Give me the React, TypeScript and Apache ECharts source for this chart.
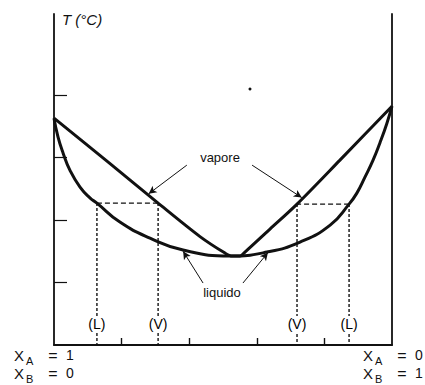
import React, { useEffect, useRef } from "react";
import * as echarts from "echarts";

// Composition of B (0 = pure A, 1 = pure B) and temperature (arbitrary units)
const liquidX = [0, 0.012, 0.027, 0.047, 0.077, 0.107, 0.127, 0.195, 0.284, 0.382, 0.521, 0.63, 0.728, 0.817, 0.873, 0.896, 0.92, 0.944, 0.964, 0.985, 1];
const liquidT = [3.632, 3.328, 3.072, 2.8, 2.528, 2.352, 2.272, 1.968, 1.712, 1.52, 1.424, 1.488, 1.648, 1.92, 2.256, 2.432, 2.688, 2.96, 3.232, 3.552, 3.824];

const vaporX = [0, 0.164, 0.308, 0.432, 0.506, 0.527, 0.55, 0.565, 0.639, 0.719, 0.846, 1];
const vaporT = [3.632, 2.912, 2.272, 1.736, 1.472, 1.424, 1.424, 1.488, 1.856, 2.256, 2.96, 3.824];

// Tie lines: liquid composition, vapour composition, temperature
const tieLiquidX = [0.127, 0.873];
const tieVaporX = [0.308, 0.719];
const tieT = [2.272, 2.256];

const yTicks = [1, 2, 3, 4];
const xTicks = [0.2, 0.4, 0.6, 0.8];

// Annotation arrows: [fromX, fromT, toX, toT]
const vaporArrows = [
  [0.393, 2.88, 0.28, 2.42],
  [0.586, 2.88, 0.733, 2.36],
];
const liquidArrows = [
  [0.441, 0.992, 0.382, 1.5],
  [0.559, 0.992, 0.633, 1.48],
];
const markLabelT = 0.336;

const FONT = "'Liberation Sans', Arial, sans-serif";
const INK = "#111";

function subLabel(x: number, y: number, sub: string, val: string) {
  return [
    { type: "text", x, y, style: { text: "X", font: `15px ${FONT}`, fill: INK, align: "left", verticalAlign: "middle" } },
    { type: "text", x: x + 12, y: y + 6, style: { text: sub, font: `11px ${FONT}`, fill: INK, align: "left", verticalAlign: "middle" } },
    { type: "text", x: x + 39, y, style: { text: "=", font: `16px ${FONT}`, fill: INK, align: "center", verticalAlign: "middle" } },
    { type: "text", x: x + 52, y, style: { text: val, font: `14px ${FONT}`, fill: INK, align: "left", verticalAlign: "middle" } },
  ];
}

export default function App() {
  const ref = useRef<HTMLDivElement>(null);

  useEffect(() => {
    if (!ref.current) return;
    const chart = echarts.init(ref.current, undefined, { renderer: "svg" });

    const liquid = liquidX.map((x, i) => [x, liquidT[i]]);
    const vapor = vaporX.map((x, i) => [x, vaporT[i]]);

    const arrowData = (list: number[][]) =>
      list.map((a) => [{ coord: [a[0], a[1]] }, { coord: [a[2], a[3]] }]);

    const tieSeries: any[] = [];
    tieT.forEach((t, i) => {
      tieSeries.push({
        type: "line",
        data: [[tieLiquidX[i], t], [tieVaporX[i], t]],
        symbol: "none",
        lineStyle: { color: INK, width: 1.2, type: [5, 3] },
        z: 2,
        silent: true,
      });
      [tieLiquidX[i], tieVaporX[i]].forEach((x) => {
        tieSeries.push({
          type: "line",
          data: [[x, t], [x, 0]],
          symbol: "none",
          lineStyle: { color: INK, width: 1.4, type: [3, 2] },
          z: 2,
          silent: true,
        });
      });
    });

    const phaseLabels = [
      [tieLiquidX[0], markLabelT, "(L)"],
      [tieVaporX[0], markLabelT, "(V)"],
      [tieVaporX[1], markLabelT, "(V)"],
      [tieLiquidX[1], markLabelT, "(L)"],
    ];

    chart.setOption({
      animation: false,
      grid: { left: 54, right: 33, top: 14, bottom: 40 },
      xAxis: {
        type: "value",
        min: 0,
        max: 1,
        interval: 0.2,
        axisLine: { show: true, lineStyle: { color: INK, width: 1.8 } },
        axisTick: { show: true, inside: true, length: 7, customValues: xTicks, lineStyle: { color: INK, width: 1.4 } },
        axisLabel: { show: false },
        splitLine: { show: false },
      },
      yAxis: [
        {
          type: "value",
          min: 0,
          max: 5.3,
          interval: 1,
          axisLine: { show: true, lineStyle: { color: INK, width: 1.8 } },
          axisTick: { show: true, inside: true, length: 13, customValues: yTicks, lineStyle: { color: INK, width: 1.2 } },
          axisLabel: { show: false },
          splitLine: { show: false },
        },
        {
          type: "value",
          position: "right",
          min: 0,
          max: 5.3,
          axisLine: { show: true, lineStyle: { color: INK, width: 1.8 } },
          axisTick: { show: false },
          axisLabel: { show: false },
          splitLine: { show: false },
        },
      ],
      series: [
        ...tieSeries,
        {
          type: "line",
          name: "liquido",
          data: liquid,
          symbol: "none",
          smooth: 0.5,
          lineStyle: { color: INK, width: 3 },
          z: 4,
          markLine: {
            silent: true,
            symbol: ["none", "arrow"],
            symbolSize: [6, 8],
            label: { show: false },
            lineStyle: { color: INK, width: 1, type: "solid" },
            data: arrowData(liquidArrows),
          },
        },
        {
          type: "line",
          name: "vapore",
          data: vapor,
          symbol: "none",
          smooth: 0.3,
          lineStyle: { color: INK, width: 3 },
          z: 4,
          markLine: {
            silent: true,
            symbol: ["none", "arrow"],
            symbolSize: [6, 8],
            label: { show: false },
            lineStyle: { color: INK, width: 1, type: "solid" },
            data: arrowData(vaporArrows),
          },
        },
        {
          type: "scatter",
          data: phaseLabels,
          symbolSize: 0,
          itemStyle: { color: INK, opacity: 1 },
          z: 6,
          silent: true,
          label: {
            show: true,
            position: "inside",
            formatter: (p: any) => p.value[2],
            fontFamily: FONT,
            fontSize: 14,
            color: "#000",
            opacity: 1,
            textBorderWidth: 0,
            backgroundColor: "#fff",
            padding: [1, 1],
          },
        },
      ],
      graphic: [
        { type: "text", x: 62, y: 19, style: { text: "T (°C)", font: `italic 15px ${FONT}`, fill: INK, align: "left", verticalAlign: "middle" } },
        { type: "text", x: 220, y: 157, style: { text: "vapore", font: `13px ${FONT}`, fill: INK, align: "center", verticalAlign: "middle" } },
        { type: "text", x: 222, y: 292, style: { text: "liquido", font: `13px ${FONT}`, fill: INK, align: "center", verticalAlign: "middle" } },
        { type: "circle", shape: { cx: 250, cy: 89, r: 1.5 }, style: { fill: INK } },
        ...subLabel(14, 355, "A", "1"),
        ...subLabel(14, 373, "B", "0"),
        ...subLabel(363, 355, "A", "0"),
        ...subLabel(363, 373, "B", "1"),
      ],
    });

    return () => chart.dispose();
  }, []);

  return <div ref={ref} style={{ width: 425, height: 385, position: "absolute", left: 0, top: 0 }} />;
}
